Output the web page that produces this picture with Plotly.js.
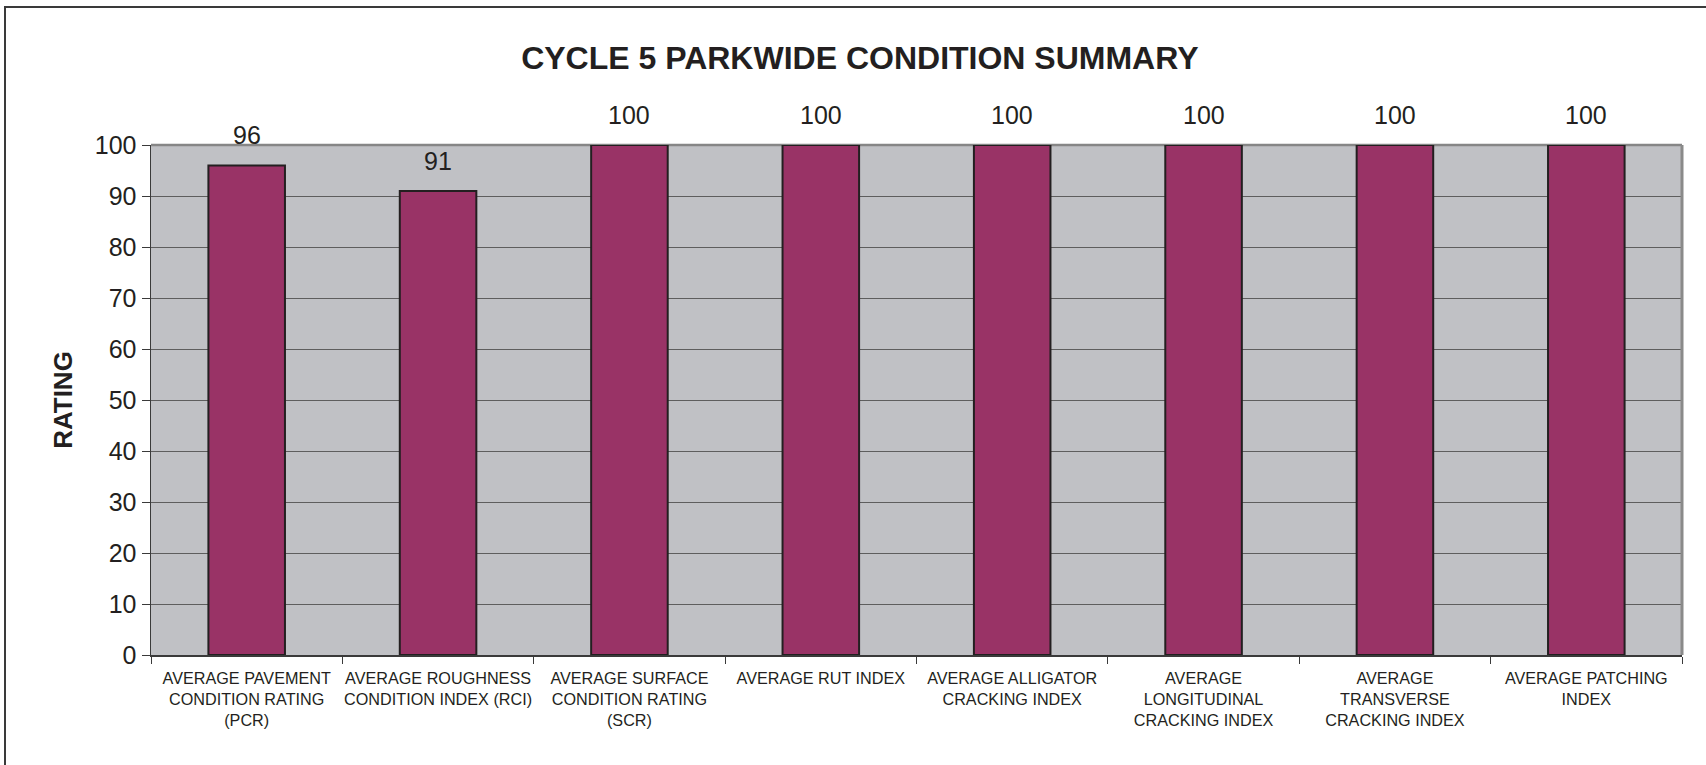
<!DOCTYPE html>
<html>
<head>
<meta charset="utf-8">
<script src="https://cdn.plot.ly/plotly-3.0.1.min.js"></script>
<style>
  html, body { margin: 0; padding: 0; background: #ffffff; overflow: hidden; }
  #wrap { position: relative; width: 1706px; height: 765px; }
  #chart { width: 1706px; height: 765px; }
  #frame { position: absolute; left: 4px; top: 6px; width: 1800px; height: 900px;
           border: 2px solid #3a3a3a; pointer-events: none; box-sizing: border-box; }
</style>
</head>
<body>
<div id="wrap">
  <div id="chart"></div>
  <div id="frame"></div>
</div>
<script>
// ---- data ----
const categories = [
  "AVERAGE PAVEMENT<br>CONDITION RATING<br>(PCR)",
  "AVERAGE ROUGHNESS<br>CONDITION INDEX (RCI)",
  "AVERAGE SURFACE<br>CONDITION RATING<br>(SCR)",
  "AVERAGE RUT INDEX",
  "AVERAGE ALLIGATOR<br>CRACKING INDEX",
  "AVERAGE<br>LONGITUDINAL<br>CRACKING INDEX",
  "AVERAGE<br>TRANSVERSE<br>CRACKING INDEX",
  "AVERAGE PATCHING<br>INDEX"
];
const ratings = [96, 91, 100, 100, 100, 100, 100, 100];
const yTickValues = [0, 10, 20, 30, 40, 50, 60, 70, 80, 90, 100];
const chartTitle = "CYCLE 5 PARKWIDE CONDITION SUMMARY";
const yAxisTitle = "RATING";

// ---- styles ----
const textColor = "#231f20";
const font = "Arial, 'Liberation Sans', sans-serif";

const trace = {
  type: "bar",
  x: categories,
  y: ratings,
  marker: { color: "#993366", line: { color: "#231f20", width: 2 } },
  hoverinfo: "x+y"
};

const annotations = categories.map((c, i) => ({
  x: c, y: ratings[i], xref: "x", yref: "y",
  text: String(ratings[i]),
  showarrow: false, yanchor: "bottom", yshift: 14,
  font: { family: font, size: 25, color: textColor }
}));

const layout = {
  width: 1706, height: 765,
  margin: { l: 151, r: 24, t: 145, b: 110, pad: 0 },
  paper_bgcolor: "#ffffff",
  plot_bgcolor: "#c0c1c5",
  bargap: 0.6,
  showlegend: false,
  title: {
    text: "<b>" + chartTitle + "</b>",
    font: { family: font, size: 32, color: textColor },
    x: 0.504, xanchor: "center", y: 0.925, yanchor: "middle"
  },
  xaxis: {
    type: "category",
    tickson: "boundaries",
    tickangle: 0,
    ticks: "outside", ticklen: 7, tickcolor: "#3a3a3a", tickwidth: 1,
    ticklabelstandoff: 8,
    showline: true, linecolor: "#3a3a3a", linewidth: 1.5,
    showgrid: false,
    tickfont: { family: font, size: 16.2, color: textColor },
    automargin: false
  },
  yaxis: {
    range: [0, 100],
    tickvals: yTickValues,
    ticks: "outside", ticklen: 8, tickcolor: "#3a3a3a", tickwidth: 1,
    showline: true, linecolor: "#3a3a3a", linewidth: 1.5,
    showgrid: true, gridcolor: "#5e5e5e", gridwidth: 1,
    zeroline: false,
    tickfont: { family: font, size: 25, color: textColor },
    title: { text: "<b>" + yAxisTitle + "</b>", font: { family: font, size: 26, color: textColor }, standoff: 14 },
    automargin: false
  },
  shapes: [
    { type: "line", xref: "paper", yref: "paper", x0: 0, x1: 1, y0: 1, y1: 1,
      line: { color: "#868686", width: 2.5 }, layer: "below" },
    { type: "line", xref: "paper", yref: "paper", x0: 1, x1: 1, y0: 0, y1: 1,
      line: { color: "#8a8a8a", width: 3 }, layer: "above" }
  ],
  annotations: annotations
};

Plotly.newPlot("chart", [trace], layout, { displayModeBar: false, staticPlot: true });
</script>
</body>
</html>
